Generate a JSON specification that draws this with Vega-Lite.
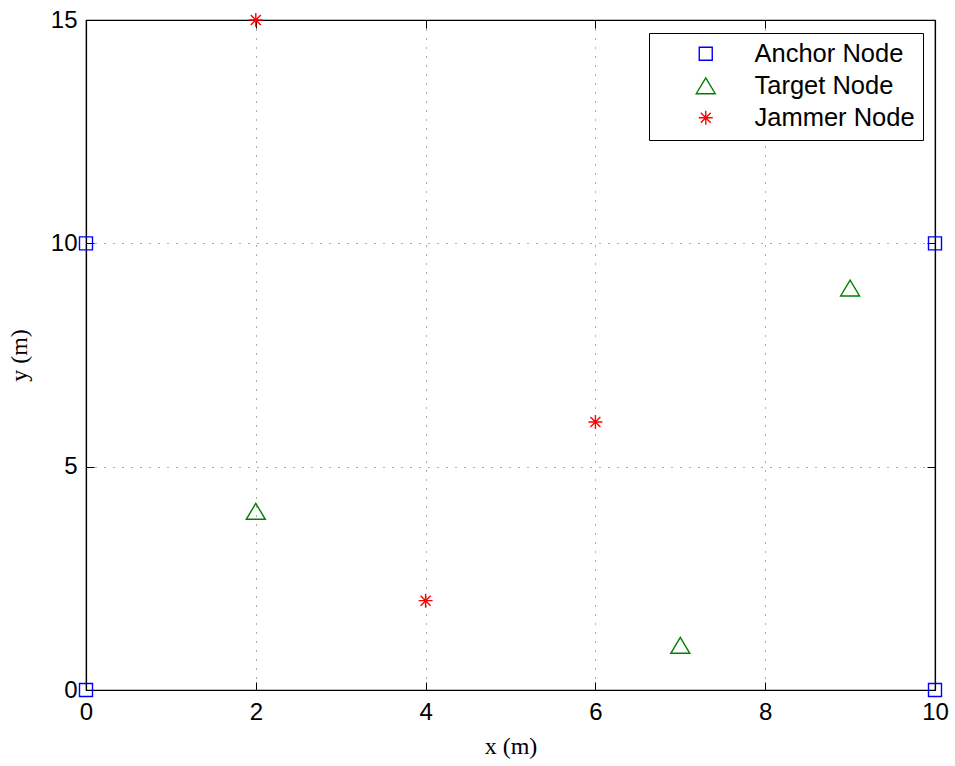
{
  "$schema": "https://vega.github.io/schema/vega-lite/v6.json",
  "width": 849,
  "height": 670,
  "autosize": {"type": "none"},
  "padding": {"left": 86, "top": 20, "right": 20, "bottom": 76},
  "background": "white",
  "config": {
    "font": "Liberation Sans",
    "view": {"stroke": "black", "strokeWidth": 1.2},
    "axis": {
      "labelFont": "Liberation Sans",
      "labelFontSize": 24,
      "labelColor": "black",
      "labelFlush": false,
      "labelOverlap": false,
      "domainColor": "black",
      "tickColor": "black",
      "titleFont": "Liberation Serif",
      "titleFontWeight": "normal",
      "titleFontSize": 24,
      "titleColor": "black",
      "gridColor": "#333333",
      "gridDash": [1, 8],
      "gridOpacity": 0.8
    }
  },
  "data": {
    "values": [
      {"x": 0, "y": 0, "node": "Anchor Node"},
      {"x": 0, "y": 10, "node": "Anchor Node"},
      {"x": 10, "y": 0, "node": "Anchor Node"},
      {"x": 10, "y": 10, "node": "Anchor Node"},
      {"x": 2, "y": 4, "node": "Target Node"},
      {"x": 7, "y": 1, "node": "Target Node"},
      {"x": 9, "y": 9, "node": "Target Node"},
      {"x": 2, "y": 15, "node": "Jammer Node"},
      {"x": 4, "y": 2, "node": "Jammer Node"},
      {"x": 6, "y": 6, "node": "Jammer Node"}
    ]
  },
  "layer": [
    {
      "mark": {"type": "point", "filled": false, "opacity": 1, "strokeWidth": 1.4, "clip": false},
      "encoding": {
        "x": {
          "field": "x", "type": "quantitative",
          "scale": {"domain": [0, 10], "nice": false, "zero": false},
          "axis": {"title": "x (m)", "values": [0, 2, 4, 6, 8, 10], "grid": true, "tickSize": -8, "labelPadding": 18, "titlePadding": 10, "domainWidth": 1.2}
        },
        "y": {
          "field": "y", "type": "quantitative",
          "scale": {"domain": [0, 15], "nice": false, "zero": false},
          "axis": {"title": "y (m)", "values": [0, 5, 10, 15], "grid": true, "tickSize": -8, "labelPadding": 17, "titlePadding": 19, "domainWidth": 1.2}
        },
        "color": {
          "field": "node", "type": "nominal",
          "scale": {"domain": ["Anchor Node", "Target Node", "Jammer Node"], "range": ["#0000ff", "#008000", "#ff0000"]},
          "legend": {
            "title": null,
            "orient": "none",
            "legendX": 563,
            "legendY": 13,
            "fillColor": "white",
            "strokeColor": "black",
            "padding": 8,
            "labelFontSize": 25.5,
            "labelLimit": 400,
            "labelFont": "Liberation Sans",
            "labelColor": "black",
            "labelOffset": 36,
            "symbolOffset": 36,
            "rowPadding": 5,
            "symbolStrokeWidth": 1.4,
            "symbolOpacity": 1
          }
        },
        "shape": {
          "field": "node", "type": "nominal",
          "scale": {"domain": ["Anchor Node", "Target Node", "Jammer Node"], "range": ["square", "M0,-0.84L1,0.84L-1,0.84Z", "M0,-1L0,1M-1,0L1,0M-0.71,-0.71L0.71,0.71M-0.71,0.71L0.71,-0.71"]}
        },
        "size": {
          "field": "node", "type": "nominal",
          "scale": {"type": "ordinal", "domain": ["Anchor Node", "Target Node", "Jammer Node"], "range": [169, 361, 196]}
        }
      }
    },
    {
      "mark": {"type": "point", "opacity": 0},
      "encoding": {
        "x": {
          "field": "x", "type": "quantitative",
          "axis": {"orient": "top", "title": null, "labels": false, "values": [0, 2, 4, 6, 8, 10], "grid": false, "tickSize": -8, "domainWidth": 1.2}
        },
        "y": {
          "field": "y", "type": "quantitative",
          "axis": {"orient": "right", "title": null, "labels": false, "values": [0, 5, 10, 15], "grid": false, "tickSize": -8, "domainWidth": 1.2}
        }
      }
    }
  ],
  "resolve": {"axis": {"x": "independent", "y": "independent"}}
}
